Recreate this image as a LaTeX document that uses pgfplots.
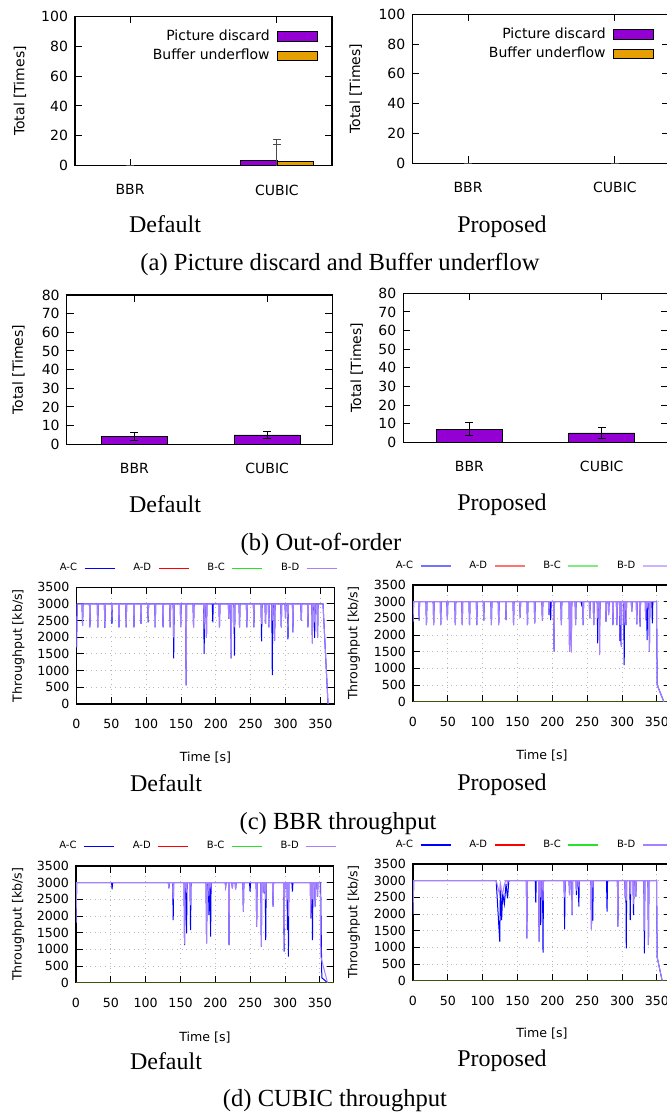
\documentclass[border=0pt]{standalone}
\usepackage{fontspec}
\setmainfont{Liberation Serif}
\newfontfamily\gp{DejaVu Sans}
\usepackage{pgfplots}
\pgfplotsset{compat=1.18}

\definecolor{gpviolet}{RGB}{148,0,211}
\definecolor{gporange}{RGB}{230,159,0}
\definecolor{acblue}{RGB}{0,0,255}
\definecolor{adred}{RGB}{255,0,0}
\definecolor{bcgreen}{RGB}{40,225,40}
\definecolor{bdlav}{RGB}{168,128,255}
\definecolor{zeroline}{RGB}{55,85,15}

\newcommand\gpsz{\gp\fontsize{7}{8.4}\selectfont}
\newcommand\gpsm{\gp\fontsize{6.3}{7.5}\selectfont}
\newcommand\gplg{\gp\fontsize{5}{6}\selectfont}
\newcommand\capsz{\fontsize{12}{14}\selectfont}
\newcommand\capbig{\fontsize{12.3}{14}\selectfont}

\pgfplotsset{
  gpbase/.style={scale only axis, axis line style={line width=0.6pt},
    tick style={line width=0.5pt, black}, major tick length=3.5pt,
    /pgf/number format/assume math mode=true, /pgf/number format/1000 sep={}},
  barax/.style={gpbase, width=128.5pt, height=74.7pt, ymin=0,
    xtick={0,1}, xticklabels={BBR,CUBIC},
    ylabel={Total [Times]},
    tick label style={font=\gpsz}, label style={font=\gpsz},
    xticklabel style={yshift=-6pt},
    legend style={font=\gpsz, draw=none, fill=none, anchor=north east,
      row sep=0pt, inner sep=0pt, nodes={inner sep=1.5pt},
      /tikz/every odd column/.append style={column sep=2pt}},
    legend plot pos=right, legend cell align=right},
  barleg/.style={legend image code/.code={
    \draw[##1, draw=black, line width=0.4pt] (0pt,-2.4pt) rectangle (20pt,2.4pt);}},
  ebar/.style={error bars/.cd, y dir=both, y explicit,
    error bar style={#1, line width=0.5pt},
    error mark options={rotate=90, mark size=2pt, #1, line width=0.5pt}},
  thrax/.style={gpbase, width=128.9pt, height=58.35pt,
    xmin=0, xmax=370, ymin=0, ymax=3500,
    xtick={0,50,...,350}, ytick={0,500,...,3500},
    grid=major, grid style={gray!55, dotted, line width=0.5pt},
    xlabel={Time [s]}, ylabel={Throughput [kb/s]},
    tick label style={font=\gpsm}, label style={font=\gpsm},
    xticklabel style={yshift=-4pt},
    legend columns=4, legend plot pos=right,
    legend style={font=\gplg, draw=none, fill=none, anchor=west, inner sep=0pt,
      nodes={inner sep=0.5pt},
      /tikz/every odd column/.append style={column sep=3pt},
      /tikz/every even column/.append style={column sep=8.5pt}},
    legend image code/.code={\draw[##1, line width=0.6pt] (0pt,0pt) -- (15pt,0pt);},
    every axis plot/.append style={line width=0.5pt}},
  lg/.style={legend image code/.code={\draw[#1, line width=0.6pt] (0pt,0pt) -- (15pt,0pt);}},
}

\begin{document}
\begin{tikzpicture}
\path[use as bounding box] (0pt,0pt) rectangle (333.5pt,-556.5pt);
\clip (0pt,0pt) rectangle (333.5pt,-556.5pt);

% (a) picture discard / buffer underflow
\begin{axis}[barax, at={(37.5pt,-82.85pt)}, anchor=south west,
  ymax=100, ytick={0,20,...,100}, xmin=-0.375, xmax=1.375,
  ylabel style={at={(axis description cs:-0.214,0.5)}, anchor=center},
  legend style={at={(axis description cs:0.945,0.935)}}]
\addplot[ybar, bar width=0.25, bar shift=-0.125, fill=gpviolet, draw=black, line width=0.4pt, barleg, ebar=gray!60!black]
  coordinates {(0,0) +- (0,0) (1,3.8) +- (0,13.8)};
\addlegendentry{Picture discard}
\addplot[ybar, bar width=0.25, bar shift=0.125, fill=gporange, draw=black, line width=0.4pt, barleg, ebar=gray!60!black]
  coordinates {(0,0) +- (0,0) (1,2.9) +- (0,11.6)};
\addlegendentry{Buffer underflow}
\end{axis}

\begin{axis}[barax, at={(206.15pt,-81.65pt)}, anchor=south west, height=74.5pt,
  ymax=100, ytick={0,20,...,100}, xmin=-0.38, xmax=1.37,
  ylabel style={at={(axis description cs:-0.22,0.5)}, anchor=center},
  legend style={at={(axis description cs:0.94,0.935)}}]
\addplot[ybar, bar width=0.25, bar shift=-0.125, fill=gpviolet, draw=black, line width=0.4pt, barleg, ebar=gray!60!black]
  coordinates {(0,0) +- (0,0) (1,0) +- (0,0)};
\addlegendentry{Picture discard}
\addplot[ybar, bar width=0.25, bar shift=0.125, fill=gporange, draw=black, line width=0.4pt, barleg, ebar=gray!60!black]
  coordinates {(0,0) +- (0,0) (1,0) +- (0,0)};
\addlegendentry{Buffer underflow}
\end{axis}

% (b) out-of-order
\begin{axis}[barax, at={(33.35pt,-222.15pt)}, anchor=south west, width=132.8pt, height=74.65pt,
  ymax=80, ytick={0,10,...,80}, xmin=-0.51, xmax=1.49, xticklabel style={yshift=0pt},
  ylabel style={at={(axis description cs:-0.182,0.5)}, anchor=center}]
\addplot[ybar, bar width=0.5, bar shift=0, fill=gpviolet, draw=black, line width=0.4pt, ebar=black]
  coordinates {(0,4.2) +- (0,1.9) (1,5.0) +- (0,2.0)};
\end{axis}

\begin{axis}[barax, at={(201.65pt,-221.15pt)}, anchor=south west, width=132.3pt, height=74.5pt,
  ymax=80, ytick={0,10,...,80}, xmin=-0.5, xmax=1.5, xticklabel style={yshift=0pt},
  ylabel style={at={(axis description cs:-0.176,0.5)}, anchor=center}]
\addplot[ybar, bar width=0.5, bar shift=0, fill=gpviolet, draw=black, line width=0.4pt, ebar=black]
  coordinates {(0,7.0) +- (0,3.4) (1,5.0) +- (0,3.1)};
\end{axis}

% (c) BBR throughput, default
\begin{axis}[thrax, at={(38.25pt,-352pt)}, anchor=south west,
  ylabel style={at={(axis description cs:-0.225,0.5)}, anchor=center},
  xlabel style={at={(axis description cs:0.5,-0.46)}, anchor=center},
  legend style={at={(axis description cs:-0.07,1.163)}}]
\addplot[acblue] coordinates {
(0,1700) (1,3000)
(8,3000) (8.7,2340) (9.4,3000) (18.6,3000) (19.3,2300) (20,3000)
(29.8,3000) (30.5,2300) (31.2,3000) (40,3000) (40.7,2280) (41.4,3000)
(50.2,3000) (50.9,2400) (51.6,3000) (60.3,3000) (61,2300) (61.7,3000)
(70.6,3000) (71.3,2300) (72,3000) (81.8,3000) (82.5,2300) (83.2,3000)
(91.9,3000) (92.6,2400) (93.3,3000) (102.1,3000) (102.8,2450) (103.5,3000)
(112.3,3000) (113,2300) (113.7,3000) (123.5,3000) (124.2,2300) (124.9,3000)
(133.7,3000) (134.4,2300) (135.1,3000) (138.8,3000) (139.5,1370) (140.2,3000)
(148.9,3000) (149.6,2350) (150.3,3000) (156.6,3000) (157.3,560) (158,3000)
(167.3,3000) (168,2300) (168.7,3000) (182.5,3000) (183.2,1500) (183.9,3000)
(185.8,3000) (186.5,2000) (187.2,3000) (194.9,3000) (195.6,2450) (196.3,3000)
(204.5,3000) (205.2,2300) (205.9,3000)
(217.9,3000) (218.6,2550) (219.3,3000) (221.3,3000) (222,1370) (222.7,3000)
(226,3000) (226.7,1450) (227.4,3000) (233.3,3000) (234,2300) (234.7,3000)
(243.8,3000) (244.5,2300) (245.2,3000) (253.9,3000) (254.6,2300) (255.3,3000)
(264.9,3000) (265.6,1880) (266.3,3000) (270.6,3000) (271.3,2400) (272,3000)
(275.3,3000) (276,2300) (276.7,3000) (280.3,3000) (281,870) (281.7,3000)
(283.6,3000) (284.3,1900) (285,3000) (293.2,3000) (293.9,2300) (294.6,3000)
(299.3,3000) (300,2570) (300.7,3000) (302.8,3000) (303.5,1940) (304.2,3000)
(309.9,3000) (310.6,2150) (311.3,3000) (321.9,3000) (322.6,2500) (323.3,3000)
(331.5,3000) (332.2,2300) (332.9,3000) (337.8,3000) (338.5,1820) (339.2,3000)
(341.1,3000) (341.8,1980) (342.5,3000) (345.3,3000) (346,2000) (346.7,3000)
(353.8,3000) (361,0)};
\addlegendentry{A-C}
\addplot[black, lg=adred] coordinates {(0,0) (370,0)};
\addlegendentry{A-D}
\addplot[black, lg=bcgreen] coordinates {(0,0) (370,0)};
\addlegendentry{B-C}
\addplot[bdlav] coordinates {
(0,1700) (1,3000)
(8,3000) (8.7,2340) (9.4,3000) (18.6,3000) (19.3,2300) (20,3000)
(29.8,3000) (30.5,2300) (31.2,3000) (40,3000) (40.7,2300) (41.4,3000)
(50.2,3000) (50.9,2600) (51.6,3000) (60.3,3000) (61,2300) (61.7,3000)
(70.6,3000) (71.3,2300) (72,3000) (81.8,3000) (82.5,2300) (83.2,3000)
(91.9,3000) (92.6,2400) (93.3,3000) (102.1,3000) (102.8,2500) (103.5,3000)
(112.3,3000) (113,2300) (113.7,3000) (123.5,3000) (124.2,2300) (124.9,3000)
(133.7,3000) (134.4,2300) (135.1,3000) (138.8,3000) (139.5,2000) (140.2,3000)
(148.9,3000) (149.6,2300) (150.3,3000) (156.6,3000) (157.3,560) (158,3000)
(167.3,3000) (168,2300) (168.7,3000) (182.5,3000) (183.2,2250) (183.9,3000)
(185.8,3000) (186.5,2000) (187.2,3000) (204.5,3000) (205.2,2300) (205.9,3000)
(217.9,3000) (218.6,2550) (219.3,3000) (221.3,3000) (222,1370) (222.7,3000)
(226,3000) (226.7,2300) (227.4,3000) (233.3,3000) (234,2300) (234.7,3000)
(243.8,3000) (244.5,2300) (245.2,3000) (253.9,3000) (254.6,2300) (255.3,3000)
(264.9,3000) (265.6,2400) (266.3,3000) (270.6,3000) (271.3,2400) (272,3000)
(275.3,3000) (276,2300) (276.7,3000) (280.3,3000) (281,2500) (281.7,3000)
(283.6,3000) (284.3,1900) (285,3000) (293.2,3000) (293.9,2300) (294.6,3000)
(299.3,3000) (300,2570) (300.7,3000) (302.8,3000) (303.5,2300) (304.2,3000)
(309.9,3000) (310.6,2150) (311.3,3000) (321.9,3000) (322.6,2500) (323.3,3000)
(331.5,3000) (332.2,2300) (332.9,3000) (337.8,3000) (338.5,1820) (339.2,3000)
(341.1,3000) (341.8,2450) (342.5,3000) (345.3,3000) (346,2000) (346.7,3000)
(353.8,3000) (361,0)};
\addlegendentry{B-D}
\end{axis}

% (c) BBR throughput, proposed
\begin{axis}[thrax, at={(206.5pt,-350.85pt)}, anchor=south west,
  ylabel style={at={(axis description cs:-0.229,0.5)}, anchor=center},
  xlabel style={at={(axis description cs:0.5,-0.46)}, anchor=center},
  legend style={at={(axis description cs:-0.072,1.163)}}]
\addplot[acblue, lg=acblue!55] coordinates {
(0,2400) (1,3000)
(8.1,3000) (8.8,2430) (9.5,3000) (18.6,3000) (19.3,2300) (20,3000)
(29,3000) (29.7,2300) (30.4,3000) (39.1,3000) (39.8,2300) (40.5,3000)
(48.6,3000) (49.3,2450) (50,3000) (60,3000) (60.7,2300) (61.4,3000)
(70,3000) (70.7,2300) (71.4,3000) (80.4,3000) (81.1,2300) (81.8,3000)
(90.9,3000) (91.6,2300) (92.3,3000) (100.9,3000) (101.6,2430) (102.3,3000)
(111.8,3000) (112.5,2300) (113.2,3000) (122.3,3000) (123,2300) (123.7,3000)
(132.8,3000) (133.5,2450) (134.2,3000) (143.6,3000) (144.3,2300) (145,3000)
(153.1,3000) (153.8,2520) (154.5,3000) (163.6,3000) (164.3,2300) (165,3000)
(174,3000) (174.7,2350) (175.4,3000) (185,3000) (185.7,2430) (186.4,3000)
(194.5,3000) (195.2,2600) (195.9,3000) (196.9,3000) (197.6,2450) (198.3,3000)
(201.7,3000) (202.4,1500) (203.1,3000) (212.2,3000) (212.9,2300) (213.6,3000)
(224,3000) (224.7,1500) (225.4,3000) (226.5,3000) (227.2,1700) (227.9,3000)
(232.7,3000) (233.4,2300) (234.1,3000) (241.2,3000) (241.9,2920) (242.6,3000)
(243.5,3000) (244.2,2300) (244.9,3000) (253,3000) (253.7,2500) (254.4,3000)
(258.7,3000) (259.4,2300) (260.1,3000) (264.4,3000) (265.1,1750) (265.8,3000)
(267.3,3000) (268,2500) (268.7,3000) (276.3,3000) (277,2400) (277.7,3000)
(280.1,3000) (280.8,2600) (281.5,3000) (286.3,3000) (287,2300) (287.7,3000)
(291.9,3000) (292.6,2300) (293.3,3000) (296.3,3000) (297,1820) (297.7,3000)
(298.2,3000) (298.9,1650) (299.6,3000) (302.4,3000) (303.1,1100) (303.8,3000)
(305.2,3000) (305.9,2300) (306.6,3000) (313.3,3000) (314,2700) (314.7,3000)
(320.5,3000) (321.2,2320) (321.9,3000) (325.2,3000) (325.9,2250) (326.6,3000)
(333.3,3000) (334,2450) (334.7,3000) (335.3,3000) (336,1850) (336.7,3000)
(338.6,3000) (339.3,1500) (340,3000) (342.8,3000) (343.5,2350) (344.2,3000)
(349.5,3000) (350.5,500) (360,0)};
\addlegendentry{A-C}
\addplot[zeroline, lg={adred!55}] coordinates {(0,0) (370,0)};
\addlegendentry{A-D}
\addplot[zeroline, lg={bcgreen!60}] coordinates {(0,0) (370,0)};
\addlegendentry{B-C}
\addplot[bdlav, lg={bdlav!60}] coordinates {
(0,2400) (1,3000)
(8.1,3000) (8.8,2430) (9.5,3000) (18.6,3000) (19.3,2300) (20,3000)
(29,3000) (29.7,2300) (30.4,3000) (39.1,3000) (39.8,2300) (40.5,3000)
(48.6,3000) (49.3,2450) (50,3000) (60,3000) (60.7,2300) (61.4,3000)
(70,3000) (70.7,2300) (71.4,3000) (80.4,3000) (81.1,2300) (81.8,3000)
(90.9,3000) (91.6,2300) (92.3,3000) (100.9,3000) (101.6,2450) (102.3,3000)
(111.8,3000) (112.5,2300) (113.2,3000) (122.3,3000) (123,2300) (123.7,3000)
(132.8,3000) (133.5,2450) (134.2,3000) (143.6,3000) (144.3,2300) (145,3000)
(153.1,3000) (153.8,2520) (154.5,3000) (163.6,3000) (164.3,2300) (165,3000)
(174,3000) (174.7,2350) (175.4,3000) (185,3000) (185.7,2430) (186.4,3000)
(194.5,3000) (195.2,2600) (195.9,3000)
(201.7,3000) (202.4,1500) (203.1,3000) (212.2,3000) (212.9,2300) (213.6,3000)
(224,3000) (224.7,1500) (225.4,3000) (226.5,3000) (227.2,1470) (227.9,3000)
(232.7,3000) (233.4,2300) (234.1,3000)
(243.5,3000) (244.2,2300) (244.9,3000) (253,3000) (253.7,2500) (254.4,3000)
(258.7,3000) (259.4,2300) (260.1,3000) (264.4,3000) (265.1,2500) (265.8,3000)
(267.3,3000) (268,1400) (268.7,3000) (276.3,3000) (277,2400) (277.7,3000)
(280.1,3000) (280.8,2600) (281.5,3000) (286.3,3000) (287,2300) (287.7,3000)
(291.9,3000) (292.6,2300) (293.3,3000) (296.3,3000) (297,2300) (297.7,3000)
(298.2,3000) (298.9,1650) (299.6,3000) (302.4,3000) (303.1,2300) (303.8,3000)
(305.2,3000) (305.9,2300) (306.6,3000) (313.3,3000) (314,2700) (314.7,3000)
(320.5,3000) (321.2,2320) (321.9,3000) (325.2,3000) (325.9,2250) (326.6,3000)
(333.3,3000) (334,2450) (334.7,3000) (335.3,3000) (336,2800) (336.7,3000)
(338.6,3000) (339.3,1500) (340,3000)
(349.5,3000) (350.5,500) (360,0)};
\addlegendentry{B-D}
\end{axis}

% (d) CUBIC throughput, default
\begin{axis}[thrax, at={(38pt,-491.35pt)}, anchor=south west,
  ylabel style={at={(axis description cs:-0.224,0.5)}, anchor=center},
  xlabel style={at={(axis description cs:0.5,-0.47)}, anchor=center},
  legend style={at={(axis description cs:-0.07,1.165)}}]
\addplot[acblue] coordinates {
(0,1800) (1,3000)
(51.1,3000) (51.8,2800) (52.5,3000)
(132.6,3000) (133.3,2830) (134,3000) (138.8,3000) (139.5,1880) (140.2,3000)
(155.1,3000) (155.8,1130) (156.5,3000) (158,3000) (158.7,1480) (159.4,3000)
(163.7,3000) (164.4,1580) (165.1,3000) (186.7,3000) (187.4,1180) (188.1,3000)
(190.1,3000) (190.8,2030) (191.5,3000) (192.5,3000) (193.2,1380) (193.9,3000)
(214.1,3000) (214.8,2880) (215.5,3000) (218.9,3000) (219.6,1130) (220.3,3000)
(223.7,3000) (224.4,2830) (225.1,3000) (228.4,3000) (229.1,2800) (229.8,3000)
(239.5,3000) (240.2,2130) (240.9,3000) (249.1,3000) (249.8,2730) (250.5,3000)
(258.6,3000) (259.3,1680) (260,3000)
(265.3,3000) (266,1080) (266.7,3000) (269.2,3000) (269.9,2680) (270.6,3000)
(271.6,3000) (272.3,1280) (273,3000) (282.1,3000) (282.8,2280) (283.5,3000)
(298,3000) (298.7,930) (299.4,3000) (300.4,3000) (301.1,2830) (301.8,3000)
(302.8,3000) (303.5,1580) (304.1,3000) (304.3,3000) (304.9,780) (305.5,3000)
(309.9,3000) (310.6,2730) (311.3,3000)
(336.3,3000) (337,1930) (337.7,3000) (338.7,3000) (339.4,1280) (340.1,3000)
(342.5,3000) (343.2,2280) (343.9,3000) (345.9,3000) (346.6,2580) (347.3,3000)
(351,3000) (352.8,150) (361,0)};
\addlegendentry{A-C}
\addplot[zeroline, lg=adred] coordinates {(0,0) (370,0)};
\addlegendentry{A-D}
\addplot[zeroline, lg=bcgreen] coordinates {(0,0) (370,0)};
\addlegendentry{B-C}
\addplot[bdlav] coordinates {
(0,1800) (1,3000)
(132.6,3000) (133.3,2830) (134,3000) (138.8,3000) (139.5,2500) (140.2,3000)
(155.1,3000) (155.8,1150) (156.5,3000) (158,3000) (158.7,2700) (159.4,3000)
(163.7,3000) (164.4,2330) (165.1,3000) (186.7,3000) (187.4,1180) (188.1,3000)
(190.1,3000) (190.8,2600) (191.5,3000) (192.5,3000) (193.2,2900) (193.9,3000)
(214.1,3000) (214.8,2880) (215.5,3000) (218.9,3000) (219.6,1130) (220.3,3000)
(223.7,3000) (224.4,2830) (225.1,3000) (228.4,3000) (229.1,2800) (229.8,3000)
(239.5,3000) (240.2,2130) (240.9,3000) (258.6,3000) (259.3,1680) (260,3000)
(265.3,3000) (266,1080) (266.7,3000) (269.2,3000) (269.9,2680) (270.6,3000)
(271.6,3000) (272.3,2500) (273,3000) (282.1,3000) (282.8,2280) (283.5,3000)
(298,3000) (298.7,1180) (299.4,3000) (300.4,3000) (301.1,2830) (301.8,3000)
(302.8,3000) (303.5,2500) (304.1,3000) (304.3,3000) (304.9,2000) (305.5,3000)
(336.3,3000) (337,1930) (337.7,3000) (338.7,3000) (339.4,2500) (340.1,3000)
(342.5,3000) (343.2,2280) (343.9,3000) (345.9,3000) (346.6,2580) (347.3,3000)
(350.4,3000) (351.4,780) (361,0)};
\addlegendentry{B-D}
\end{axis}

% (d) CUBIC throughput, proposed
\begin{axis}[thrax, at={(206.5pt,-490.35pt)}, anchor=south west,
  ylabel style={at={(axis description cs:-0.229,0.5)}, anchor=center},
  xlabel style={at={(axis description cs:0.5,-0.455)}, anchor=center},
  legend style={at={(axis description cs:-0.072,1.163)}}]
\addplot[acblue] coordinates {
(0,2000) (1,3000)
(119.4,3000) (124.5,1170) (125.5,2900) (127.2,1820) (128.7,2620) (131.1,2300)
(133.5,2900) (135.7,2470) (137.5,3000)
(162.7,3000) (163.4,1270) (164.1,3000) (175.5,3000) (176.2,2340) (176.9,3000)
(180.3,3000) (181,1170) (181.7,3000) (182.6,3000) (183.3,1670) (184,3000)
(185.9,3000) (186.6,840) (187.3,3000) (216.9,3000) (217.6,1540) (218.3,3000)
(224,3000) (224.7,2570) (225.4,3000) (227.8,3000) (228.5,1970) (229.2,3000)
(233.9,3000) (234.6,2570) (235.3,3000) (237.3,3000) (238,2220) (238.7,3000)
(255.4,3000) (256.1,1540) (256.8,3000) (257.3,3000) (258,1800) (258.7,3000)
(277.8,3000) (278.5,2070) (279.2,3000) (293.4,3000) (294.1,1620) (294.8,3000)
(303.9,3000) (304.6,2520) (305.3,3000) (305.5,3000) (306.1,970) (306.7,3000)
(311.1,3000) (311.8,1820) (312.5,3000) (315.8,3000) (316.5,1970) (317.2,3000)
(319.1,3000) (319.8,2520) (320.5,3000) (331.4,3000) (332.1,820) (332.8,3000)
(337.2,3000) (337.9,1070) (338.6,3000)
(349.5,3000) (350.5,700) (357.6,0)};
\addlegendentry{A-C}
\addplot[zeroline, lg=adred] coordinates {(0,0) (370,0)};
\addlegendentry{A-D}
\addplot[zeroline, lg=bcgreen] coordinates {(0,0) (370,0)};
\addlegendentry{B-C}
\addplot[bdlav] coordinates {
(0,2000) (1,3000)
(119.4,3000) (124.1,2600) (125.5,2900) (126.8,2700) (128.7,2620) (131.1,2870)
(133,3000) (135,3000) (135.7,2900) (136.4,3000)
(162.7,3000) (163.4,1270) (164.1,3000)
(180.3,3000) (181,1170) (181.7,3000) (182.6,3000) (183.3,2500) (184,3000)
(185.9,3000) (186.6,2400) (187.3,3000) (216.9,3000) (217.6,2500) (218.3,3000)
(224,3000) (224.7,2570) (225.4,3000) (227.8,3000) (228.5,1970) (229.2,3000)
(233.9,3000) (234.6,2700) (235.3,3000) (237.3,3000) (238,2800) (238.7,3000)
(255.4,3000) (256.1,1540) (256.8,3000) (257.3,3000) (258,2800) (258.7,3000)
(293.4,3000) (294.1,1620) (294.8,3000)
(303.9,3000) (304.6,2520) (305.3,3000) (305.5,3000) (306.1,2400) (306.7,3000)
(311.1,3000) (311.8,2600) (312.5,3000) (315.8,3000) (316.5,2300) (317.2,3000)
(319.1,3000) (319.8,2520) (320.5,3000) (331.4,3000) (332.1,1500) (332.8,3000)
(337.2,3000) (337.9,1070) (338.6,3000)
(349.5,3000) (350.5,700) (357.6,0)};
\addlegendentry{B-D}
\end{axis}

% sub-figure labels and captions
\node[anchor=base, font=\capsz] at (82.5pt,-116pt) {Default};
\node[anchor=base, font=\capsz] at (251pt,-116pt) {Proposed};
\node[anchor=base, font=\capbig] at (170pt,-135pt) {(a) Picture discard and Buffer underflow};
\node[anchor=base, font=\capsz] at (82.5pt,-256pt) {Default};
\node[anchor=base, font=\capsz] at (251pt,-255pt) {Proposed};
\node[anchor=base, font=\capbig] at (160.5pt,-275pt) {(b) Out-of-order};
\node[anchor=base, font=\capsz] at (83pt,-395.5pt) {Default};
\node[anchor=base, font=\capsz] at (251pt,-395pt) {Proposed};
\node[anchor=base, font=\capbig] at (169pt,-414.5pt) {(c) BBR throughput};
\node[anchor=base, font=\capsz] at (83pt,-534.5pt) {Default};
\node[anchor=base, font=\capsz] at (251pt,-533pt) {Proposed};
\node[anchor=base, font=\capbig] at (167.5pt,-553pt) {(d) CUBIC throughput};
\end{tikzpicture}
\end{document}
